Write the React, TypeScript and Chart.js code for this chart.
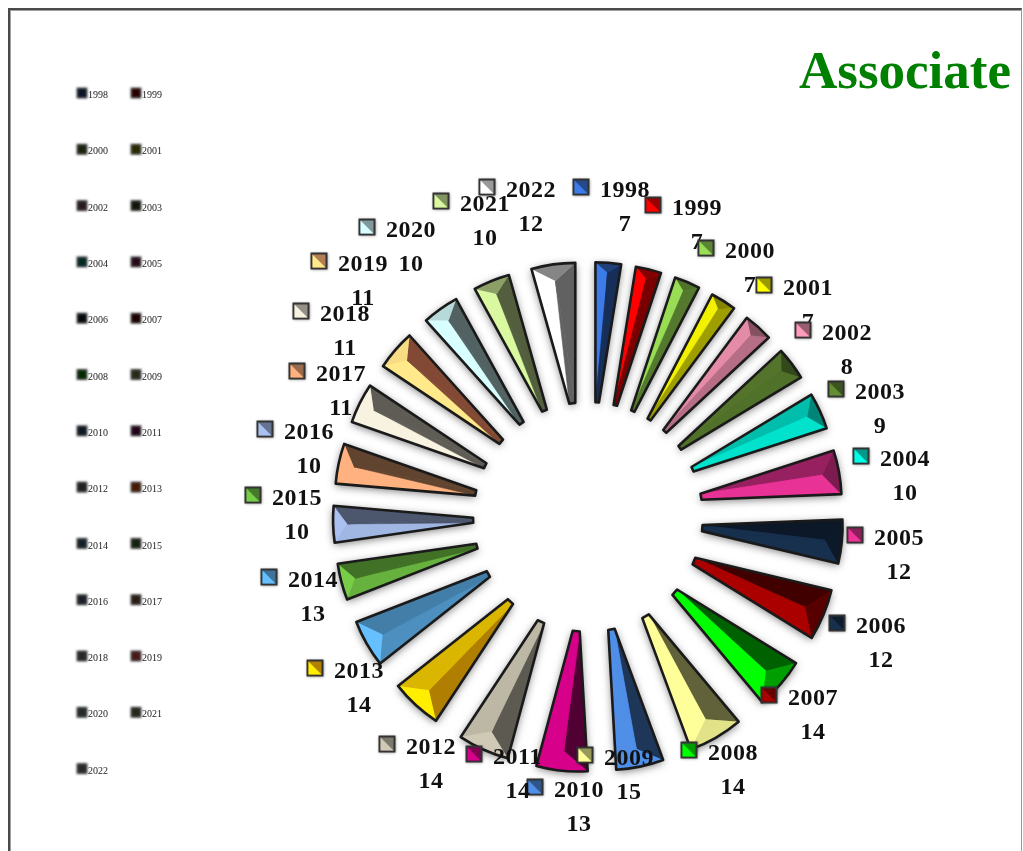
import React, { useEffect, useRef } from "react";
import { Chart, ArcElement, DoughnutController, registerables } from "chart.js";

const years = ["1998","1999","2000","2001","2002","2003","2004","2005","2006","2007","2008","2009","2010","2011","2012","2013","2014","2015","2016","2017","2018","2019","2020","2021","2022"];
const counts = [7,7,7,7,8,9,10,12,12,14,14,15,13,14,14,14,13,10,10,11,11,11,10,10,12];
const palette = ["#3c7be8","#ff0000","#99dd55","#ffff00","#ff9bbb","#648c33","#00ffe6","#ee3399","#17304d","#aa0000","#00ff00","#ffff99","#4f8fe8","#d6008a","#cfc9b5","#ffee00","#66bfff","#77cc48","#a9c0f0","#ffb27f","#f8f2e0","#ffe98a","#d8ffff","#d9f8a0","#ffffff"];
const warmColours = ["#ffee00", "#ffe98a"];
const titleText = "Associate";

// label block anchors (swatch centres), relative to the centre of the ring
const labelOffsets: number[][] = [[-7,-330],[65,-312],[118,-269],[176,-232],[215,-187],[248,-128],[273,-61],[267,18],[249,106],[181,178],[101,233],[-3,238],[-53,270],[-114,237],[-201,227],[-273,151],[-319,60],[-335,-22],[-323,-88],[-291,-146],[-287,-206],[-269,-256],[-221,-290],[-147,-316],[-101,-330]];

const SERIF = '"Liberation Serif", serif';
const LIGHT = (145 * Math.PI) / 180;

function shade(hex: string, f: number) {
  const n = parseInt(hex.slice(1), 16);
  const warm = warmColours.includes(hex) && f < 1;
  const r = Math.round(((n >> 16) & 255) * (warm ? Math.pow(f, 0.7) : f));
  const g = Math.round(((n >> 8) & 255) * (warm ? Math.pow(f, 1.2) : f));
  const b = Math.round((n & 255) * f);
  return `rgb(${r},${g},${b})`;
}
const faceLight = (a: number) => {
  const x = Math.cos(a - LIGHT);
  if (x >= 0.6) return 1;
  if (x >= 0) return 0.78 + (0.22 * x) / 0.6;
  if (x >= -0.7) return 0.78 + (0.36 * x) / 0.7;
  return 0.38;
};
const rimLight = (a: number) => {
  const x = Math.cos(a - LIGHT);
  if (x >= 0.35) return 1;
  if (x >= 0) return 0.85 + (0.15 * x) / 0.35;
  if (x >= -0.35) return 0.85 + (0.33 * x) / 0.35;
  return 0.52;
};

class Wedge extends ArcElement {
  static id = "wedge";
  draw(ctx: CanvasRenderingContext2D) {
    const self: any = this;
    const { x, y, startAngle: s, endAngle: e, innerRadius: ir, outerRadius: R } = self;
    const { offset, backgroundColor: base, borderColor, borderWidth } = self.options;
    const mid = (s + e) / 2;
    const ox = x + Math.cos(mid) * offset;
    const oy = y + Math.sin(mid) * offset;
    const pt = (a: number, r: number): [number, number] => [ox + Math.cos(a) * r, oy + Math.sin(a) * r];
    const a0 = pt(s, ir), b0 = pt(e, ir), A = pt(s, R), B = pt(e, R);
    const depth = (e - s) * R * 0.38;
    const P = pt(mid, R - depth);

    const outline = () => {
      ctx.beginPath();
      ctx.moveTo(a0[0], a0[1]);
      ctx.lineTo(A[0], A[1]);
      ctx.arc(ox, oy, R, s, e);
      ctx.lineTo(b0[0], b0[1]);
      ctx.closePath();
    };
    const facet = (pts: [number, number][], fill: string) => {
      ctx.beginPath();
      ctx.moveTo(pts[0][0], pts[0][1]);
      pts.slice(1).forEach((p) => ctx.lineTo(p[0], p[1]));
      ctx.closePath();
      ctx.fillStyle = fill;
      ctx.strokeStyle = fill;
      ctx.lineWidth = 0.6;
      ctx.fill();
      ctx.stroke();
    };

    ctx.save();
    ctx.save();
    ctx.shadowColor = "rgba(0,0,0,0.55)";
    ctx.shadowBlur = 9;
    ctx.shadowOffsetY = 2;
    outline();
    ctx.fillStyle = base;
    ctx.fill();
    ctx.restore();

    const fs = shade(base, faceLight(s - Math.PI / 2));
    const fe = shade(base, faceLight(e + Math.PI / 2));
    const fr = shade(base, rimLight(mid));
    ctx.save();
    outline();
    ctx.clip();
    facet([a0, A, P], fs);
    facet([b0, B, P], fe);
    facet([a0, b0, P], fe);
    ctx.beginPath();
    ctx.moveTo(P[0], P[1]);
    ctx.lineTo(A[0], A[1]);
    ctx.arc(ox, oy, R + 1, s, e);
    ctx.lineTo(B[0], B[1]);
    ctx.closePath();
    ctx.fillStyle = fr;
    ctx.fill();
    ctx.restore();

    outline();
    ctx.lineJoin = "round";
    ctx.lineWidth = borderWidth;
    ctx.strokeStyle = borderColor;
    ctx.stroke();
    ctx.restore();
  }
}

class WedgeController extends DoughnutController {
  static id = "wedgeRing";
  static defaults = { dataElementType: "wedge" };
}

Chart.register(...registerables, Wedge, WedgeController);

const decorations = {
  id: "decorations",
  afterDatasetsDraw(chart: any) {
    const ctx: CanvasRenderingContext2D = chart.ctx;
    const arcs = chart.getDatasetMeta(0).data;
    const cx = arcs[0].x, cy = arcs[0].y;
    const labels: string[] = chart.data.labels;
    const values: number[] = chart.data.datasets[0].data;
    const colors: string[] = chart.data.datasets[0].backgroundColor;
    ctx.save();

    // title
    ctx.font = `bold 53px ${SERIF}`;
    ctx.fillStyle = "#008000";
    ctx.textAlign = "right";
    ctx.textBaseline = "alphabetic";
    ctx.fillText(titleText, 1011, 88);

    // compact legend on the left, two columns
    labels.forEach((label, i) => {
      const col = i % 2, row = Math.floor(i / 2);
      const lx = 82 + col * 54, ly = 93 + row * 56.3;
      ctx.save();
      ctx.filter = "blur(0.8px)";
      ctx.fillStyle = "#555";
      ctx.fillRect(lx - 5.5, ly - 5.5, 11, 11);
      ctx.fillStyle = shade(colors[i], 0.16);
      ctx.fillRect(lx - 4, ly - 4, 8, 8);
      ctx.restore();
      ctx.save();
      ctx.filter = "blur(0.35px)";
      ctx.font = `10px ${SERIF}`;
      ctx.fillStyle = "#222";
      ctx.textAlign = "left";
      ctx.textBaseline = "middle";
      ctx.fillText(label, lx + 6, ly + 2.5);
      ctx.restore();
    });

    // callouts round the ring
    labels.forEach((label, i) => {
      const sx = cx + labelOffsets[i][0], sy = cy + labelOffsets[i][1];
      const h = 8.5;
      ctx.save();
      ctx.shadowColor = "rgba(0,0,0,0.5)";
      ctx.shadowBlur = 3;
      ctx.fillStyle = "#333";
      ctx.fillRect(sx - h, sy - h, 2 * h, 2 * h);
      ctx.restore();
      ctx.fillStyle = shade(colors[i], 0.6);
      ctx.fillRect(sx - h + 2, sy - h + 2, 2 * h - 4, 2 * h - 4);
      ctx.beginPath();
      ctx.moveTo(sx - h + 2, sy - h + 2);
      ctx.lineTo(sx + h - 2, sy + h - 2);
      ctx.lineTo(sx - h + 2, sy + h - 2);
      ctx.closePath();
      ctx.fillStyle = colors[i];
      ctx.fill();

      ctx.fillStyle = "#111";
      ctx.font = `bold 24px ${SERIF}`;
      ctx.textBaseline = "middle";
      ctx.textAlign = "left";
      (ctx as any).letterSpacing = "0.5px";
      ctx.fillText(label, sx + 19, sy + 4);
      ctx.textAlign = "center";
      ctx.fillText(String(values[i]), sx + 44, sy + 38);
      (ctx as any).letterSpacing = "0px";
    });
    ctx.restore();
  },
};

export default function App() {
  const ref = useRef<HTMLCanvasElement>(null);
  useEffect(() => {
    const chart = new Chart(ref.current as HTMLCanvasElement, {
      type: "wedgeRing" as any,
      data: {
        labels: years,
        datasets: [{
          data: counts,
          backgroundColor: palette,
          borderColor: "#1a1a1a",
          borderWidth: 2.6,
          offset: 93,
          hoverOffset: 0,
        }],
      },
      options: {
        animation: false,
        responsive: false,
        events: [],
        radius: 162,
        cutout: "13.6%",
        layout: { padding: { left: 332, right: 179, top: 261, bottom: 78 } },
        plugins: { legend: { display: false }, tooltip: { enabled: false }, title: { display: false } },
      } as any,
      plugins: [decorations],
    });
    return () => chart.destroy();
  }, []);
  return (
    <>
      <div style={{ position: "fixed", left: 8, top: 8, right: 1, bottom: -20, borderTop: "2px solid #4a4a4a", borderLeft: "2px solid #4a4a4a", borderRight: "1px solid #999", boxShadow: "inset 1px 1px 0 #a0a0a0", boxSizing: "border-box" }} />
      <canvas ref={ref} width={1023} height={851} style={{ position: "fixed", left: 0, top: 0, width: 1023, height: 851, filter: "blur(0.4px)" }} />
    </>
  );
}
